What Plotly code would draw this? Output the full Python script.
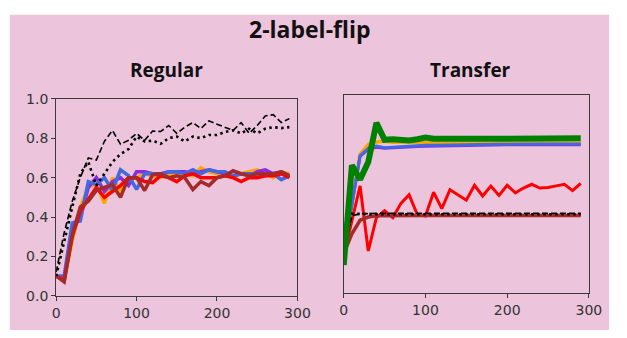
import plotly.graph_objects as go

# training steps shared by every curve
steps = [0, 10, 20, 30, 40, 50, 60, 70, 80, 90, 100, 110, 120, 130, 140,
         150, 160, 170, 180, 190, 200, 210, 220, 230, 240, 250, 260, 270, 280, 290]

# ---- Regular panel ----
reg_orange = [0.10, 0.08, 0.28, 0.45, 0.55, 0.57, 0.47, 0.60, 0.53, 0.60, 0.60, 0.62, 0.61, 0.60, 0.62,
              0.62, 0.62, 0.61, 0.65, 0.63, 0.62, 0.61, 0.60, 0.62, 0.63, 0.64, 0.62, 0.60, 0.63, 0.62]
reg_purple = [0.10, 0.08, 0.35, 0.40, 0.55, 0.60, 0.53, 0.58, 0.60, 0.56, 0.63, 0.63, 0.62, 0.62, 0.63,
              0.63, 0.63, 0.62, 0.63, 0.64, 0.63, 0.62, 0.61, 0.62, 0.61, 0.63, 0.64, 0.62, 0.63, 0.61]
reg_blue = [0.10, 0.10, 0.37, 0.38, 0.58, 0.565, 0.60, 0.535, 0.64, 0.61, 0.54, 0.62, 0.62, 0.61, 0.63,
            0.63, 0.62, 0.64, 0.62, 0.64, 0.63, 0.63, 0.61, 0.62, 0.62, 0.62, 0.61, 0.62, 0.59, 0.61]
reg_red = [0.10, 0.08, 0.30, 0.43, 0.49, 0.55, 0.50, 0.53, 0.56, 0.60, 0.60, 0.58, 0.575, 0.61, 0.60,
           0.58, 0.61, 0.62, 0.60, 0.60, 0.60, 0.61, 0.60, 0.58, 0.60, 0.60, 0.61, 0.61, 0.62, 0.60]
reg_brown = [0.10, 0.07, 0.31, 0.45, 0.48, 0.535, 0.55, 0.565, 0.50, 0.60, 0.60, 0.535, 0.615, 0.62, 0.60,
             0.61, 0.60, 0.54, 0.58, 0.56, 0.60, 0.61, 0.635, 0.62, 0.61, 0.62, 0.62, 0.62, 0.63, 0.61]
reg_dashed = [0.12, 0.32, 0.48, 0.60, 0.70, 0.69, 0.785, 0.84, 0.77, 0.79, 0.825, 0.79, 0.837, 0.835, 0.865,
              0.825, 0.857, 0.88, 0.85, 0.889, 0.872, 0.857, 0.84, 0.88, 0.825, 0.865, 0.914, 0.92, 0.88, 0.90]
reg_dotted = [0.10, 0.28, 0.45, 0.62, 0.68, 0.56, 0.62, 0.68, 0.72, 0.745, 0.809, 0.784, 0.788, 0.772, 0.801,
              0.809, 0.784, 0.809, 0.801, 0.817, 0.817, 0.833, 0.841, 0.825, 0.849, 0.825, 0.849, 0.857, 0.852, 0.857]

# ---- Transfer panel ----
tr_orange = [0.20, 0.45, 0.70, 0.749, 0.762, 0.765, 0.76, 0.76, 0.758, 0.758, 0.758, 0.757, 0.757, 0.757, 0.757,
             0.757, 0.757, 0.757, 0.757, 0.757, 0.757, 0.757, 0.757, 0.757, 0.757, 0.757, 0.757, 0.757, 0.757, 0.757]
tr_purple = [0.21, 0.44, 0.69, 0.725, 0.735, 0.73, 0.733, 0.735, 0.737, 0.739, 0.741, 0.742, 0.743, 0.744, 0.745,
             0.746, 0.746, 0.747, 0.747, 0.747, 0.748, 0.748, 0.748, 0.748, 0.748, 0.748, 0.748, 0.748, 0.748, 0.748]
tr_blue = [0.22, 0.445, 0.693, 0.73, 0.741, 0.733, 0.736, 0.739, 0.741, 0.743, 0.745, 0.746, 0.747, 0.748, 0.749,
           0.749, 0.750, 0.750, 0.751, 0.751, 0.751, 0.752, 0.752, 0.752, 0.752, 0.752, 0.752, 0.752, 0.752, 0.752]
tr_red = [0.19, 0.36, 0.541, 0.213, 0.381, 0.416, 0.381, 0.453, 0.496, 0.397, 0.389, 0.509, 0.426, 0.522, 0.496,
          0.469, 0.544, 0.49, 0.54, 0.493, 0.544, 0.506, 0.53, 0.549, 0.53, 0.533, 0.541, 0.549, 0.517, 0.554]
tr_brown = [0.20, 0.30, 0.368, 0.384, 0.39, 0.391, 0.392, 0.392, 0.392, 0.392, 0.392, 0.392, 0.392, 0.392, 0.392,
            0.392, 0.392, 0.392, 0.392, 0.392, 0.392, 0.392, 0.392, 0.392, 0.392, 0.392, 0.392, 0.392, 0.392, 0.392]
tr_dashed = [0.22, 0.39, 0.40, 0.403, 0.403, 0.403, 0.403, 0.403, 0.403, 0.403, 0.403, 0.403, 0.403, 0.403, 0.403,
             0.403, 0.403, 0.403, 0.403, 0.403, 0.403, 0.403, 0.403, 0.403, 0.403, 0.403, 0.403, 0.403, 0.403, 0.403]
tr_dotted = [0.22, 0.40, 0.40, 0.398, 0.398, 0.398, 0.398, 0.398, 0.398, 0.398, 0.398, 0.398, 0.398, 0.398, 0.398,
             0.398, 0.398, 0.398, 0.398, 0.398, 0.398, 0.398, 0.398, 0.398, 0.398, 0.398, 0.398, 0.398, 0.398, 0.398]
tr_green = [0.142, 0.645, 0.573, 0.661, 0.858, 0.773, 0.776, 0.773, 0.769, 0.776, 0.784, 0.778, 0.777, 0.775, 0.777,
            0.778, 0.778, 0.778, 0.778, 0.778, 0.778, 0.778, 0.778, 0.778, 0.778, 0.778, 0.777, 0.778, 0.778, 0.781]

x_ticks = [0, 100, 200, 300]
y_ticks = [0.0, 0.2, 0.4, 0.6, 0.8, 1.0]

W, H = 627, 338
PINK = "#ECC5DC"
PANEL = "#FFFBF1"
AXIS = "#3a3a3a"
TICK_FONT = dict(family="DejaVu Sans", size=14, color="#333333")
HEAD_FONT = "Open Sans"


def px_x(p):
    return p / W


def px_y(p):
    return (H - p) / H


fig = go.Figure()

regular = [
    (reg_orange, "#FFA500", 3.5, "solid"),
    (reg_purple, "#8A2BE2", 3.5, "solid"),
    (reg_blue, "#4169E1", 3.5, "solid"),
    (reg_red, "#FF0000", 3.5, "solid"),
    (reg_brown, "#A52A2A", 3.5, "solid"),
    (reg_dashed, "#000000", 1.6, "6px,3px"),
    (reg_dotted, "#000000", 2.6, "2.5px,3.5px"),
]
for ys, col, w, dash in regular:
    fig.add_trace(go.Scatter(x=steps, y=ys, mode="lines", xaxis="x", yaxis="y",
                             line=dict(color=col, width=w, dash=dash), showlegend=False))

transfer = [
    (tr_orange, "#FFA500", 3.5, "solid"),
    (tr_purple, "#8A2BE2", 3.0, "solid"),
    (tr_blue, "#4169E1", 3.0, "solid"),
    (tr_red, "#FF0000", 3.0, "solid"),
    (tr_brown, "#A52A2A", 3.5, "solid"),
    (tr_dashed, "#000000", 1.6, "6px,3px"),
    (tr_dotted, "#000000", 2.6, "2.5px,3.5px"),
    (tr_green, "#008000", 6.0, "solid"),
]
for ys, col, w, dash in transfer:
    fig.add_trace(go.Scatter(x=steps, y=ys, mode="lines", xaxis="x2", yaxis="y2",
                             line=dict(color=col, width=w, dash=dash), showlegend=False))

frame = dict(showline=True, mirror=True, linecolor=AXIS, linewidth=1,
             showgrid=False, zeroline=False, tickfont=TICK_FONT)

fig.update_layout(
    width=W, height=H,
    margin=dict(l=0, r=0, t=0, b=0),
    paper_bgcolor="white",
    plot_bgcolor=PANEL,
    xaxis=dict(domain=[px_x(53.6), px_x(301.6)], range=[0, 300], tickvals=x_ticks,
               ticks="outside", ticklen=4, tickcolor=AXIS, anchor="y", **frame),
    yaxis=dict(domain=[px_y(302), px_y(95.5)], range=[0, 1], tickvals=y_ticks,
               tickformat=".1f", ticks="outside", ticklen=4, tickcolor=AXIS,
               anchor="x", **frame),
    xaxis2=dict(domain=[px_x(349.2), px_x(601.2)], range=[0, 300], tickvals=x_ticks,
                ticks="outside", ticklen=4, tickcolor=AXIS, anchor="y2", **frame),
    yaxis2=dict(domain=[px_y(299.5), px_y(91)], range=[0, 1], showticklabels=False,
                ticks="", anchor="x2", **frame),
    shapes=[dict(type="rect", xref="paper", yref="paper", layer="below",
                 x0=px_x(6), x1=px_x(622), y0=px_y(338), y1=px_y(7),
                 fillcolor=PINK, line=dict(width=0))],
    annotations=[
        dict(text="<b>2-label-flip</b>", xref="paper", yref="paper",
             x=px_x(315), y=px_y(22), showarrow=False, xanchor="center", yanchor="middle",
             font=dict(family=HEAD_FONT, size=23, color="#111111")),
        dict(text="<b>Regular</b>", xref="paper", yref="paper",
             x=px_x(167), y=px_y(65), showarrow=False, xanchor="center", yanchor="middle",
             font=dict(family=HEAD_FONT, size=19, color="#111111")),
        dict(text="<b>Transfer</b>", xref="paper", yref="paper",
             x=px_x(479), y=px_y(65), showarrow=False, xanchor="center", yanchor="middle",
             font=dict(family=HEAD_FONT, size=19, color="#111111")),
    ],
)

fig.write_html("out.html")
